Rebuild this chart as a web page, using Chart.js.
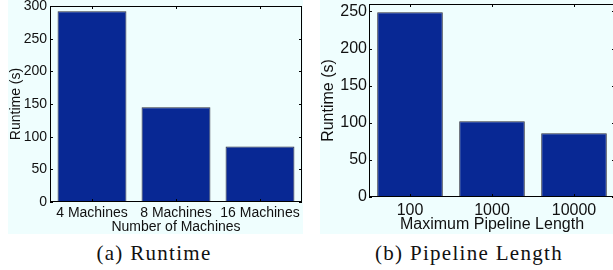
<!DOCTYPE html>
<html>
<head>
<meta charset="utf-8">
<script src="https://cdn.jsdelivr.net/npm/chart.js@4"></script>
<style>
  body { margin: 0; width: 613px; height: 270px; overflow: hidden; background: #fff; position: relative; }
  .panel { position: absolute; top: 0; height: 234px; background: #effefe; overflow: hidden; }
  .cap { position: absolute; top: 243px; width: 240px; text-align: center;
         font-family: "Liberation Serif", "Times New Roman", Times, "DejaVu Serif", serif;
         font-size: 21px; line-height: 21px; letter-spacing: 1.3px; color: #111; }
</style>
</head>
<body>
<div class="panel" style="left:8px;width:295px"><canvas id="machines" width="295" height="234"></canvas></div>
<div class="panel" style="left:320px;width:293px"><canvas id="pipeline" width="296" height="234"></canvas></div>
<div class="cap" style="left:34px">(a) Runtime</div>
<div class="cap" style="left:349px">(b) Pipeline Length</div>
<script>
// runtime vs number of machines
const machineLabels = ["4 Machines", "8 Machines", "16 Machines"];
const machineRuntime = [292, 145, 85];
const machineTicks = [0, 50, 100, 150, 200, 250, 300];

// runtime vs max pipeline length
const pipelineLabels = ["100", "1000", "10000"];
const pipelineRuntime = [249, 102, 86];
const pipelineTicks = [0, 50, 100, 150, 200, 250];

const barFill = "#082894";
const barEdge = "#2b2b3a";

Chart.defaults.font.family = "'Liberation Sans', Arial, Helvetica, sans-serif";
Chart.defaults.color = "#111";

// matlab style box with inward ticks on all four sides
const boxTicks = {
  id: "boxTicks",
  afterDraw(chart) {
    const { ctx, chartArea: a, scales: { x, y } } = chart;
    ctx.save();
    ctx.strokeStyle = "#000";
    ctx.lineWidth = 1;
    ctx.strokeRect(a.left + 0.5, a.top + 0.5, a.right - a.left - 1, a.bottom - a.top - 1);
    ctx.beginPath();
    y.ticks.forEach(t => {
      const py = Math.round(y.getPixelForValue(t.value)) + 0.5;
      ctx.moveTo(a.left, py); ctx.lineTo(a.left + 3, py);
      ctx.moveTo(a.right, py); ctx.lineTo(a.right - 3, py);
    });
    x.ticks.forEach((t, i) => {
      const px = Math.round(x.getPixelForTick(i)) + 0.5;
      ctx.moveTo(px, a.top); ctx.lineTo(px, a.top + 3);
      ctx.moveTo(px, a.bottom); ctx.lineTo(px, a.bottom - 3);
    });
    ctx.stroke();
    ctx.restore();
  }
};

function noPad(s) {
  s.paddingTop = 0; s.paddingBottom = 0; s.paddingLeft = 0; s.paddingRight = 0;
}

function makeChart(id, labels, values, yTicks, o) {
  return new Chart(document.getElementById(id), {
    type: "bar",
    data: {
      labels: labels,
      datasets: [{
        data: values,
        backgroundColor: barFill,
        borderColor: barEdge,
        borderWidth: 1,
        barPercentage: o.barPct,
        categoryPercentage: 1
      }]
    },
    options: {
      responsive: false,
      animation: false,
      devicePixelRatio: 1,
      layout: { padding: { top: o.top, right: o.right, left: 0, bottom: 0 } },
      plugins: { legend: { display: false }, tooltip: { enabled: false } },
      scales: {
        x: {
          grid: { display: false, drawTicks: false },
          border: { display: false },
          ticks: { font: { size: o.font, lineHeight: 1.2 }, padding: o.xPad, maxRotation: 0, autoSkip: false },
          title: { display: true, text: o.xTitle, font: { size: o.font, lineHeight: 1.2 }, padding: { top: 0, bottom: o.xTitlePad } },
          afterFit: s => { s.height = o.xHeight; noPad(s); }
        },
        y: {
          min: 0,
          max: o.yMax,
          grid: { display: false, drawTicks: false },
          border: { display: false },
          ticks: { font: { size: o.font }, padding: o.yPad },
          afterBuildTicks: s => { s.ticks = yTicks.map(v => ({ value: v })); },
          title: { display: true, text: "Runtime (s)", font: { size: o.font, lineHeight: 1 }, padding: { top: o.yTitlePad, bottom: 0 } },
          afterFit: s => { s.width = o.yWidth; noPad(s); }
        }
      }
    },
    plugins: [boxTicks]
  });
}

makeChart("machines", machineLabels, machineRuntime, machineTicks, {
  barPct: 0.82, top: 6, right: 1, font: 14, xPad: 3, xTitle: "Number of Machines",
  xTitlePad: -2, xHeight: 32, yMax: 300, yPad: 3, yTitlePad: 1, yWidth: 42
});

makeChart("pipeline", pipelineLabels, pipelineRuntime, pipelineTicks, {
  barPct: 0.8, top: 4, right: 1, font: 16, xPad: 4, xTitle: "Maximum Pipeline Length",
  xTitlePad: 0, xHeight: 37, yMax: 260, yPad: 2, yTitlePad: 1, yWidth: 49
});
</script>
</body>
</html>
